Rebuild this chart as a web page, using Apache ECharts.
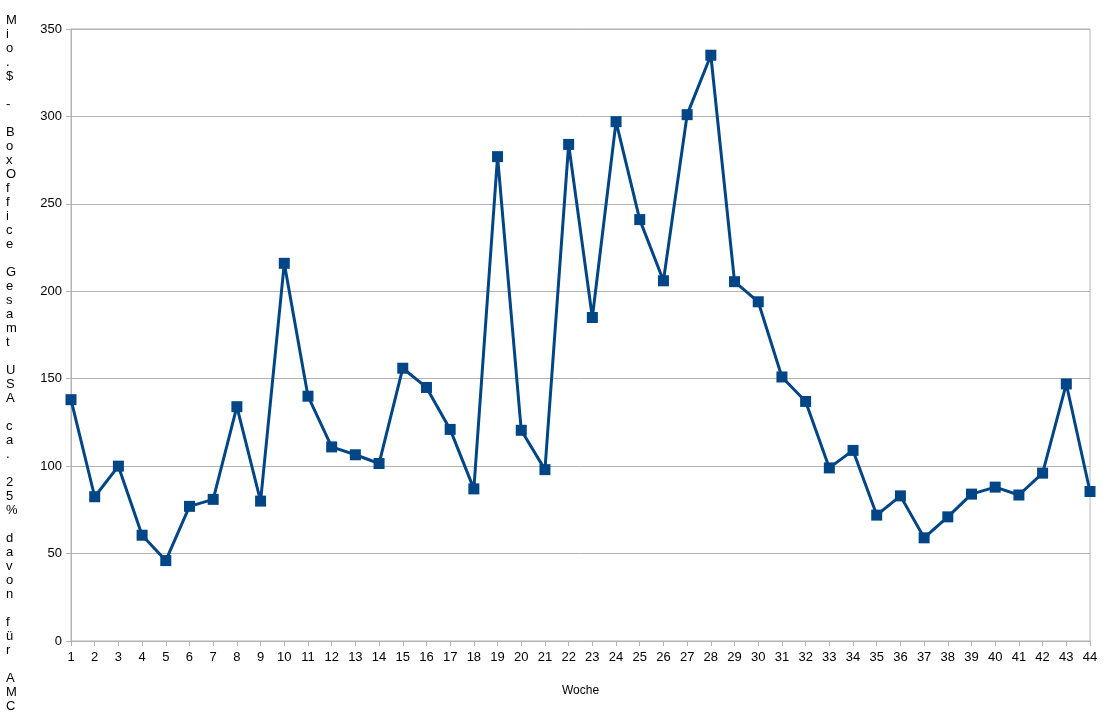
<!DOCTYPE html>
<html>
<head>
<meta charset="utf-8">
<script src="https://cdn.jsdelivr.net/npm/echarts@6/dist/echarts.min.js"></script>
<style>
html,body{margin:0;padding:0;background:#fff;}
#chart{width:1112px;height:717px;}
</style>
</head>
<body>
<div id="chart"></div>
<script>
var weeks = [];
for (var i = 1; i <= 44; i++) weeks.push(String(i));
var boxOffice = [138, 82.5, 100, 60.5, 46, 77, 81, 134, 80, 216,
  140, 111, 106.5, 101.5, 156, 145, 121, 87, 277, 120.5,
  98, 284, 185, 297, 241, 206, 301, 335, 205.5, 194,
  151, 137, 99, 109, 72, 83, 59, 71, 84, 88,
  83.5, 96, 147, 85.5];
var yTitle = "Mio.$ - BoxOffice Gesamt USA ca. 25% davon für AMC";
var xTitle = "Woche";

var chart = echarts.init(document.getElementById('chart'), null, {renderer: 'canvas'});
chart.setOption({
  animation: false,
  backgroundColor: '#fff',
  textStyle: {fontFamily: 'Liberation Sans, Arial, sans-serif'},
  graphic: [{
    type: 'text',
    left: 6,
    top: 13,
    style: {
      text: yTitle.split('').join('\n'),
      fontSize: 13,
      fontFamily: 'Liberation Sans, Arial, sans-serif',
      lineHeight: 14,
      fill: '#000',
      align: 'center'
    }
  }],
  grid: {left: 71, right: 22, top: 29, bottom: 76, show: true, borderColor: '#b3b3b3', borderWidth: 1},
  xAxis: {
    type: 'category',
    data: weeks,
    boundaryGap: false,
    name: xTitle,
    nameLocation: 'middle',
    nameGap: 44,
    nameTextStyle: {fontSize: 12, color: '#000'},
    axisLine: {lineStyle: {color: '#b3b3b3'}},
    axisTick: {show: true, length: 5, lineStyle: {color: '#b3b3b3'}},
    axisLabel: {fontSize: 13, color: '#000', margin: 10, interval: 0},
    splitLine: {show: false}
  },
  yAxis: {
    type: 'value',
    min: 0, max: 350, interval: 50,
    axisLine: {show: true, lineStyle: {color: '#b3b3b3'}},
    axisTick: {show: true, length: 5, lineStyle: {color: '#b3b3b3'}},
    axisLabel: {fontSize: 13, color: '#000', margin: 9},
    splitLine: {lineStyle: {color: '#b3b3b3'}}
  },
  series: [{
    type: 'line',
    data: boxOffice,
    symbol: 'rect',
    symbolSize: 11,
    showAllSymbol: true,
    lineStyle: {color: '#004586', width: 3},
    itemStyle: {color: '#004586'}
  }]
});
</script>
</body>
</html>
